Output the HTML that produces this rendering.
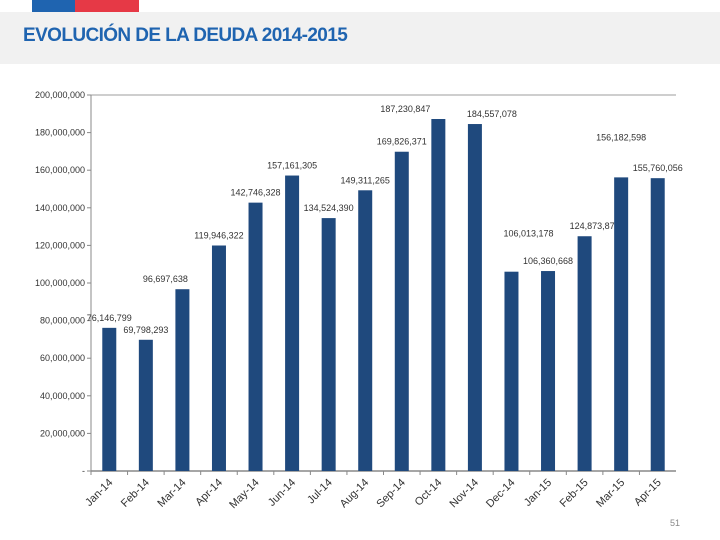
<!DOCTYPE html>
<html><head><meta charset="utf-8"><style>
body{margin:0;width:720px;height:540px;overflow:hidden;background:#fff;font-family:"Liberation Sans",sans-serif;position:relative}
</style></head><body>
<div style="position:absolute;left:32px;top:0;width:43px;height:12px;background:#1f64b0"></div>
<div style="position:absolute;left:75px;top:0;width:64px;height:12px;background:#e63946"></div>
<div style="position:absolute;left:0;top:12px;width:720px;height:52px;background:#f1f1f1"></div>
<div style="position:absolute;left:23px;top:25px;font-size:19px;font-weight:bold;color:#1f64b0;letter-spacing:-0.6px">EVOLUCIÓN DE LA DEUDA 2014-2015</div>
<div style="position:absolute;left:670px;top:518px;font-size:9px;color:#888">51</div>
<svg id="chart" width="720" height="540" style="position:absolute;left:0;top:0"></svg>
<script>
const categories=["Jan-14","Feb-14","Mar-14","Apr-14","May-14","Jun-14","Jul-14","Aug-14","Sep-14","Oct-14","Nov-14","Dec-14","Jan-15","Feb-15","Mar-15","Apr-15"];
const values=[76146799,69798293,96697638,119946322,142746328,157161305,134524390,149311265,169826371,187230847,184557078,106013178,106360668,124873879,156182598,155760056];
const valueLabels=["76,146,799","69,798,293","96,697,638","119,946,322","142,746,328","157,161,305","134,524,390","149,311,265","169,826,371","187,230,847","184,557,078","106,013,178","106,360,668","124,873,879","156,182,598","155,760,056"];
const yTicks=[0,20000000,40000000,60000000,80000000,100000000,120000000,140000000,160000000,180000000,200000000];
const yTickLabels=["-","20,000,000","40,000,000","60,000,000","80,000,000","100,000,000","120,000,000","140,000,000","160,000,000","180,000,000","200,000,000"];
const labelDx=[0,0,-17,0,0,0,0,0,0,-33,17,17,0,10,0,0];
const labelDy=[0,0,0,0,0,0,0,0,0,0,0,-28,0,0,-30,0];
const svg=document.getElementById('chart');
const NS="http://www.w3.org/2000/svg";
const X0=91,X1=676,Y0=471,Y1=95,YMAX=200000000;
const bw=(X1-X0)/categories.length;
function xc(i){return X0+(i+0.5)*bw;}
function ys(v){return Y0-(v/YMAX)*(Y0-Y1);}
function mk(t,a){const e=document.createElementNS(NS,t);for(const k in a)e.setAttribute(k,a[k]);svg.appendChild(e);return e;}
let e;
e=mk('line',{x1:X0,y1:Y1,x2:X1,y2:Y1,stroke:'#bdbdbd','stroke-width':1.5});


e=mk('line',{x1:X0,y1:Y1,x2:X0,y2:Y0,stroke:'#888','stroke-width':1});


e=mk('line',{x1:X0,y1:Y0,x2:X1,y2:Y0,stroke:'#888','stroke-width':1.5});


yTicks.forEach((v,i)=>{
  const y=ys(v);
  const t=mk('line',{x1:X0-4,y1:y,x2:X0,y2:y,stroke:'#888'});
  
  
  const l=mk('text',{x:X0-6,y:y+3,'text-anchor':'end','font-size':9,fill:'#333'});
  l.textContent=yTickLabels[i];
  
  
});
categories.forEach((c,i)=>{
  const xt=X0+i*bw;
  const tk=mk('line',{x1:xt,y1:Y0,x2:xt,y2:Y0+4,stroke:'#888'});
  
  
  const x=xc(i),y=ys(values[i]);
  const b=mk('rect',{x:x-7,y:y,width:14,height:Y0-y,fill:'#1f497d'});
  
  
  const vl=mk('text',{x:x+labelDx[i],y:y-7+labelDy[i],'text-anchor':'middle','font-size':9,fill:'#333'});
  vl.textContent=valueLabels[i];
  
  
  const xl=mk('text',{x:x+4,y:Y0+12,'text-anchor':'end','font-size':11,fill:'#333',transform:`rotate(-45 ${x+4} ${Y0+12})`});
  xl.textContent=c;
  
  
});
</script>
</body></html>
